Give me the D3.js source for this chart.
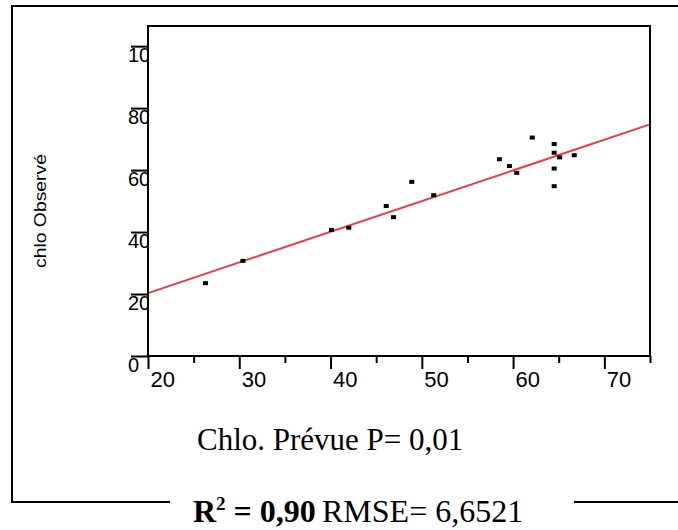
<!DOCTYPE html>
<html>
<head>
<meta charset="utf-8" />
<script src="https://cdn.jsdelivr.net/npm/d3@7"></script>
<style>
  body { margin: 0; background: #fff; }
  .tick text { font-family: "Liberation Sans", Arial, sans-serif; fill: #000; }
</style>
</head>
<body>
<script>
  // data
  var predicted = [26.3, 30.4, 40.1, 42.0, 46.1, 46.9, 48.9, 51.3, 58.5, 59.6, 60.4, 62.1, 64.5, 64.5, 65.1, 64.5, 64.5, 66.7];
  var observed  = [23.5, 30.7, 40.7, 41.4, 48.4, 44.8, 56.2, 51.9, 63.5, 61.3, 59.1, 70.5, 68.4, 65.6, 64.1, 60.5, 54.8, 64.8];
  var xMajor = [20, 30, 40, 50, 60, 70];
  var xMinor = [25, 35, 45, 55, 65, 75];
  var yMajor = [0, 20, 40, 60, 80, 100];
  var fitIntercept = 0.5;
  var fitSlope = 0.99;

  function drawChart() {
    var w = 678, h = 530;
    var pLeft = 148, pRight = 650, pTop = 26, pBottom = 356;

    var x = d3.scaleLinear().domain([20, 75]).range([pLeft, pRight]);
    var y = d3.scaleLinear().domain([0, 106.5]).range([pBottom, pTop]);

    var svg = d3.select("body").append("svg")
                .attr("width", w)
                .attr("height", h);

    // outer frame, open on the right, broken under the last line of text
    var frame = svg.append("g").attr("stroke", "#000").attr("stroke-width", 2).attr("fill", "none");
    frame.append("path").attr("d", "M678,6 H12 V502 H170");
    frame.append("path").attr("d", "M574,502 H678");

    // y axis (labels drawn before the plot area so the white box clips them)
    var yAxis = svg.append("g")
                   .attr("transform", "translate(" + pLeft + ",0)")
                   .call(d3.axisLeft(y).tickValues(yMajor).tickSize(17).tickFormat(d3.format("d")));
    yAxis.select(".domain").remove();
    yAxis.selectAll(".tick line").attr("stroke", "#000").attr("stroke-width", 2);
    yAxis.selectAll(".tick text")
         .attr("x", -20)
         .attr("dy", null)
         .attr("y", 15)
         .attr("text-anchor", "start")
         .attr("font-size", 20);

    // plot area
    svg.append("rect")
       .attr("x", pLeft).attr("y", pTop)
       .attr("width", pRight - pLeft).attr("height", pBottom - pTop)
       .attr("fill", "#fff");

    // x axis
    var xAxis = svg.append("g")
                   .attr("transform", "translate(0," + pBottom + ")")
                   .call(d3.axisBottom(x).tickValues(xMajor).tickSize(13));
    xAxis.select(".domain").remove();
    xAxis.selectAll(".tick line").attr("stroke", "#000").attr("stroke-width", 2);
    xAxis.selectAll(".tick text")
         .attr("x", 2)
         .attr("dy", null)
         .attr("y", 31)
         .attr("text-anchor", "start")
         .attr("font-size", 22);

    var xMin = svg.append("g")
                  .attr("transform", "translate(0," + pBottom + ")")
                  .call(d3.axisBottom(x).tickValues(xMinor).tickSize(7).tickFormat(""));
    xMin.select(".domain").remove();
    xMin.selectAll(".tick line").attr("stroke", "#000").attr("stroke-width", 2);

    // regression line
    var xd = x.domain();
    svg.append("line")
       .attr("x1", x(xd[0])).attr("y1", y(fitIntercept + fitSlope * xd[0]))
       .attr("x2", x(xd[1])).attr("y2", y(fitIntercept + fitSlope * xd[1]))
       .attr("stroke", "#f0364a")
       .attr("stroke-width", 2);

    // points
    svg.selectAll("rect.pt")
       .data(predicted)
       .enter().append("rect")
       .attr("class", "pt")
       .attr("x", function(d) { return x(d) - 2.5; })
       .attr("y", function(d, i) { return y(observed[i]) - 2; })
       .attr("width", 5)
       .attr("height", 4)
       .attr("fill", "#000");

    // plot box
    svg.append("rect")
       .attr("x", pLeft).attr("y", pTop)
       .attr("width", pRight - pLeft).attr("height", pBottom - pTop)
       .attr("fill", "none")
       .attr("stroke", "#000")
       .attr("stroke-width", 2);

    // y title
    svg.append("text")
       .attr("transform", "translate(46,211) rotate(-90)")
       .attr("text-anchor", "middle")
       .attr("textLength", 114)
       .attr("lengthAdjust", "spacingAndGlyphs")
       .style("font-family", "'Liberation Sans', Arial, sans-serif")
       .style("font-size", "17px")
       .text("chlo Observé");

    // x title
    svg.append("text")
       .attr("x", 197).attr("y", 450)
       .style("font-family", "'Liberation Serif', 'Times New Roman', serif")
       .style("font-size", "31px")
       .text("Chlo. Prévue P= 0,01");

    // stats line
    var stats = svg.append("text")
                   .attr("x", 193).attr("y", 522)
                   .style("font-family", "'Liberation Serif', 'Times New Roman', serif")
                   .style("font-size", "32px");
    stats.append("tspan").style("font-weight", "bold").text("R");
    stats.append("tspan").style("font-weight", "bold").style("font-size", "19px").attr("dy", -12).text("2");
    stats.append("tspan").style("font-weight", "bold").attr("dy", 12).text(" = 0,90");
    stats.append("tspan").attr("x", 322).text("RMSE= 6,6521");
  }

  drawChart();
</script>
</body>
</html>
